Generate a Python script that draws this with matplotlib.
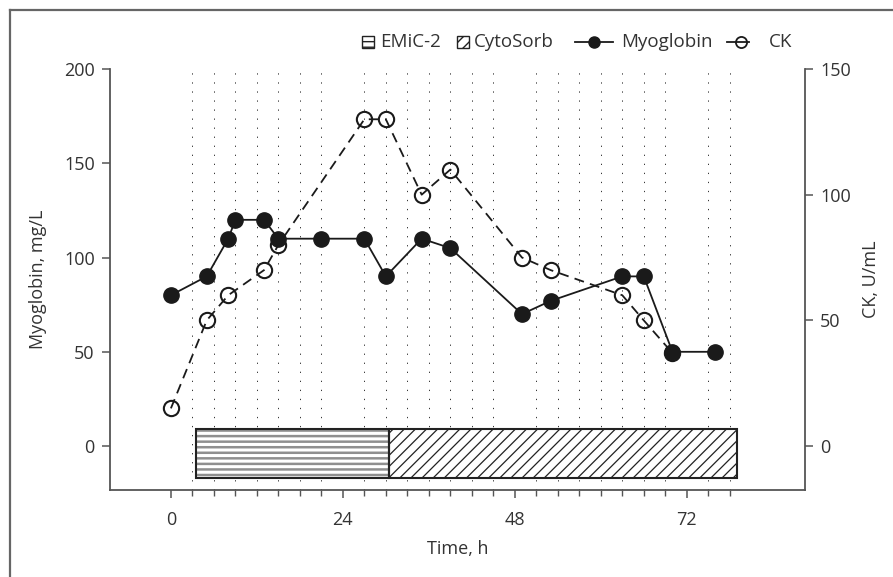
import matplotlib
matplotlib.use("Agg")
import matplotlib.pyplot as plt
from matplotlib.patches import Rectangle
from matplotlib.lines import Line2D
from matplotlib.ticker import FixedLocator

plt.rcParams['font.family'] = ['Open Sans', 'DejaVu Sans']
plt.rcParams['hatch.linewidth'] = 1.0

# ---------------- data ----------------
myo_time = [0, 5, 8, 9, 13, 15, 21, 27, 30, 35, 39, 49, 53, 63, 66, 70, 76]
myo_vals = [80, 90, 110, 120, 120, 110, 110, 110, 90, 110, 105, 70, 77, 90, 90, 50, 50]

ck_time = [0, 5, 8, 13, 15, 27, 30, 35, 39, 49, 53, 63, 66, 70]
ck_vals = [15, 50, 60, 70, 80, 130, 130, 100, 110, 75, 70, 60, 50, 37]

treatments = ["EMiC-2", "CytoSorb"]
treat_start = [3.5, 30.5]
treat_end = [30.5, 79]
treat_hatch = ["---", "///"]
treat_hatch_color = ["#8f8f8f", "#222222"]
treat_hatch_lw = [1.8, 0.9]

x_major = [0, 24, 48, 72]
x_minor = [h for h in range(3, 79, 3) if h % 24 != 0]
myo_ticks = [0, 50, 100, 150, 200]
ck_ticks = [0, 50, 100, 150]

TXT = "#333333"
SP = "#555555"

W, H = 893, 577
fig = plt.figure(figsize=(W / 100, H / 100), dpi=100)

def frac(x0, y0, x1, y1):
    return [x0 / W, 1 - y1 / H, (x1 - x0) / W, (y1 - y0) / H]

ax = fig.add_axes(frac(110, 69, 805, 490))
ax2 = ax.twinx()

ax.set_xlim(-8.5, 88.5)
ax.set_ylim(-23.3, 200)
ax2.set_ylim(-23.3 * 0.75, 150)

# grid (dotted vertical lines at minor ticks)
ax.xaxis.set_major_locator(FixedLocator(x_major))
ax.xaxis.set_minor_locator(FixedLocator(x_minor))
ax.grid(which='minor', axis='x', color='#333333', linestyle=(0, (1.3, 8)), linewidth=0.7, zorder=0)
ax.set_axisbelow(True)

# treatment bars
bar_bottom, bar_top = -17, 9
for s, e, hch, hc, hlw in zip(treat_start, treat_end, treat_hatch, treat_hatch_color, treat_hatch_lw):
    with plt.rc_context({'hatch.linewidth': hlw}):
        bars = ax.bar(x=s, height=bar_top - bar_bottom, width=e - s, bottom=bar_bottom, align='edge',
                      facecolor='white', edgecolor=hc, hatch=hch, linewidth=0, zorder=2)
    for b in bars:
        if hasattr(b, 'set_hatch_linewidth'):
            b.set_hatch_linewidth(hlw)
    ax.bar(x=s, height=bar_top - bar_bottom, width=e - s, bottom=bar_bottom, align='edge',
           facecolor='none', edgecolor='#222222', linewidth=1.5, zorder=3)

# CK on the right axis
ax2.plot(ck_time, ck_vals, color='#1a1a1a', linestyle=(0, (5.5, 3.5)), linewidth=1.3,
         marker='o', markersize=11, markerfacecolor='none', markeredgecolor='#1a1a1a',
         markeredgewidth=1.5, zorder=3)

# Myoglobin on left axis
ax.plot(myo_time, myo_vals, color='#1a1a1a', linestyle='-', linewidth=1.3,
        marker='o', markersize=11, markerfacecolor='#1a1a1a', markeredgecolor='#1a1a1a', zorder=5)

ax.set_zorder(ax2.get_zorder() + 1)
ax.patch.set_visible(False)

# spines / ticks
for a in (ax, ax2):
    a.spines['top'].set_visible(False)
    for s in a.spines.values():
        s.set_color(SP)
        s.set_linewidth(1.3)
ax.spines['right'].set_visible(False)
ax2.spines['left'].set_visible(False)
ax2.spines['bottom'].set_visible(False)

ax.set_yticks(myo_ticks)
ax2.set_yticks(ck_ticks)
ax.set_xticklabels([str(v) for v in x_major])
ax.tick_params(axis='y', which='major', length=6, width=1.1, color=SP, labelcolor=TXT,
               labelsize=13, pad=5)
ax.tick_params(axis='x', which='major', length=6, width=1.1, color=SP, labelcolor=TXT,
               labelsize=13, pad=9)
ax.tick_params(axis='x', which='minor', length=4, width=1.0, color=SP)
ax2.tick_params(axis='y', which='major', length=6, width=1.1, color=SP, labelcolor=TXT,
                labelsize=13, pad=5)

ax.set_xlabel("Time, h", fontsize=13, color=TXT, labelpad=8)
ax.set_ylabel("Myoglobin, mg/L", fontsize=13, color=TXT, labelpad=12)
ax2.set_ylabel("CK, U/mL", fontsize=13, color=TXT, labelpad=8)

# overlay for frame and legend
ov = fig.add_axes([0, 0, 1, 1], zorder=10)
ov.set_xlim(0, W)
ov.set_ylim(H, 0)
ov.axis('off')
ov.patch.set_visible(False)
ov.plot([10, 10], [10, H + 5], color='#666666', linewidth=1.6, solid_capstyle='projecting')
ov.plot([10, W + 5], [10, 10], color='#666666', linewidth=1.6, solid_capstyle='projecting')

ly = 42
# legend patches
for (x0, lab, tx), hch in zip([(362, treatments[0], 380), (457, treatments[1], 474)], treat_hatch):
    ov.add_patch(Rectangle((x0, ly - 6), 12, 12, facecolor='white', edgecolor='#222222',
                           hatch=hch, linewidth=1.0))
    ov.text(tx, ly, lab, fontsize=13.5, color=TXT, va='center', ha='left')

ov.add_line(Line2D([575, 613], [ly, ly], color='#1a1a1a', linewidth=1.3))
ov.add_line(Line2D([594], [ly], marker='o', markersize=8, color='#1a1a1a'))
ov.text(621, ly, "Myoglobin", fontsize=13.5, color=TXT, va='center', ha='left')

ov.add_line(Line2D([727, 749], [ly, ly], color='#1a1a1a', linewidth=1.3))
ov.add_line(Line2D([741], [ly], marker='o', markersize=8, markerfacecolor='none',
                   markeredgecolor='#1a1a1a', markeredgewidth=1.3))
ov.text(769, ly, "CK", fontsize=13.5, color=TXT, va='center', ha='left')

fig.savefig("out.png", dpi=100)
